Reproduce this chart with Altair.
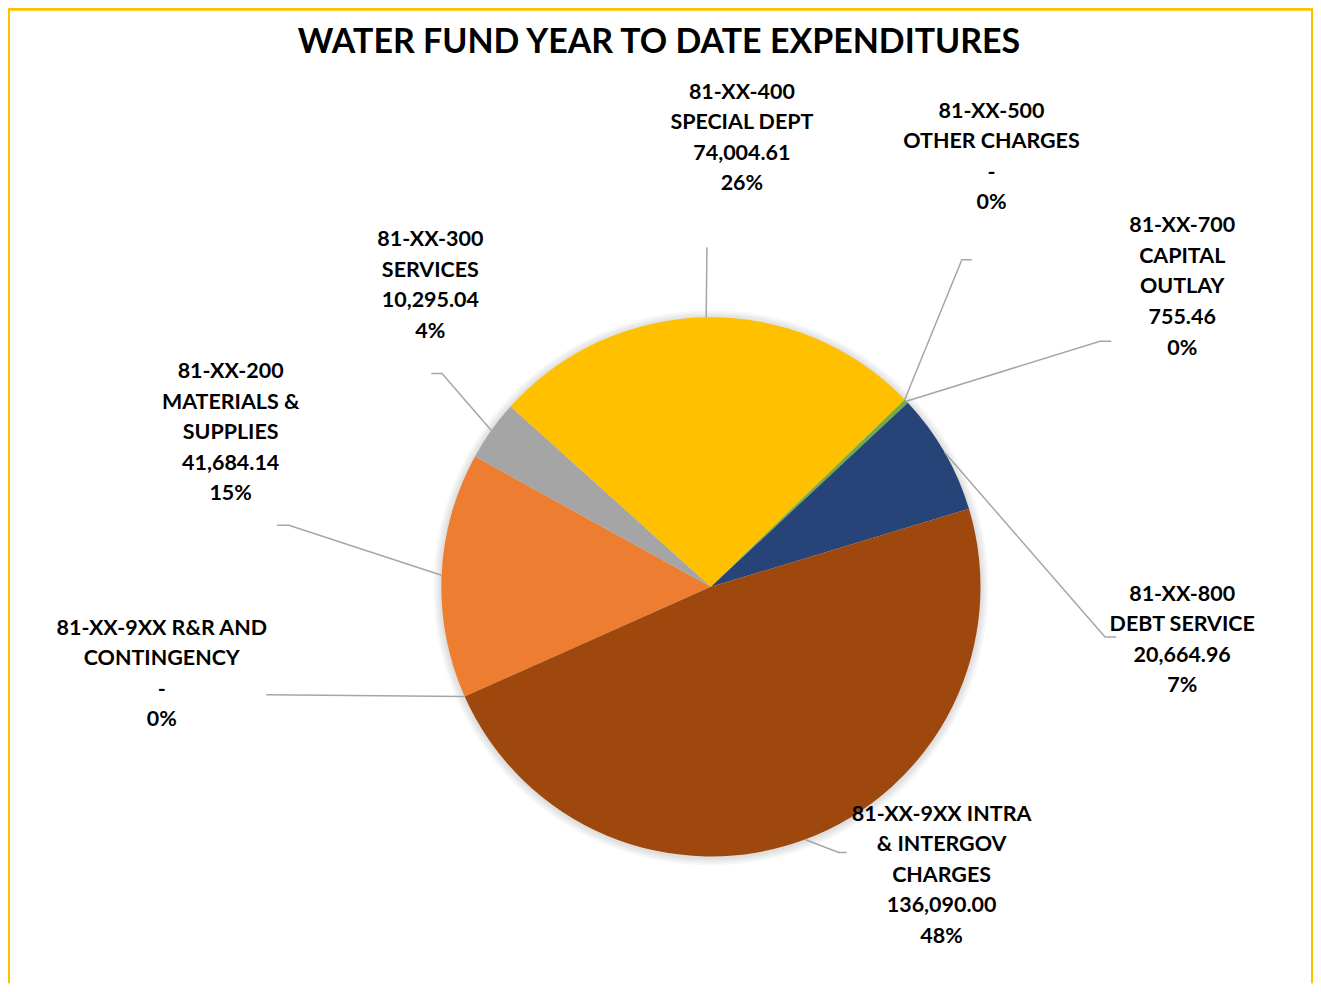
import math
import altair as alt
import pandas as pd

# ---- data ----
codes = ["81-XX-200", "81-XX-300", "81-XX-400", "81-XX-500", "81-XX-700",
         "81-XX-800", "81-XX-9XX INTRA", "81-XX-9XX R&R"]
name_lines = [
    ["81-XX-200", "MATERIALS &", "SUPPLIES"],
    ["81-XX-300", "SERVICES"],
    ["81-XX-400", "SPECIAL DEPT"],
    ["81-XX-500", "OTHER CHARGES"],
    ["81-XX-700", "CAPITAL", "OUTLAY"],
    ["81-XX-800", "DEBT SERVICE"],
    ["81-XX-9XX INTRA", "& INTERGOV", "CHARGES"],
    ["81-XX-9XX R&R AND", "CONTINGENCY"],
]
values = [41684.14, 10295.04, 74004.61, 0.0, 755.46, 20664.96, 136090.00, 0.0]
colors = ["#ED7D31", "#A5A5A5", "#FFC000", "#4472C4", "#70AD47",
          "#264478", "#9E480E", "#636363"]
title_text = "WATER FUND YEAR TO DATE EXPENDITURES"

# ---- layout (chart pixel space) ----
W, H = 1307, 976
CX, CY, R = 704, 579, 270
START_DEG = 246.0
FONT = "Lato"
# center x, first-line center y
label_pos = [(223, 364), (423, 232), (735, 84), (985, 103), (1176, 218),
             (1176, 587), (935, 807), (154, 621)]
# leader elbows / ends (after the rim start point)
leader_tail = [
    [(281.3, 517.3), (269.3, 517.3)],
    [(434.7, 365.3), (424.0, 365.3)],
    [(700.0, 239.0)],
    [(955.3, 251.3), (965.3, 251.3)],
    [(1093.7, 333.0), (1105.0, 333.0)],
    [(1098.7, 629.3), (1110.0, 629.3)],
    [(832.0, 845.0), (840.0, 845.0)],
    [(258.7, 687.0)],
]

total = sum(values)


def fmt_val(v):
    return "-" if v == 0 else f"{v:,.2f}"


df = pd.DataFrame({
    "code": codes,
    "value": values,
    "idx": list(range(len(codes))),
})

# labels
lab_rows = []
for i, (lines, v) in enumerate(zip(name_lines, values)):
    pct = f"{round(v / total * 100):.0f}%"
    txt = "\n".join(lines + [fmt_val(v), pct])
    lab_rows.append({"code": codes[i], "txt": txt,
                     "lx": label_pos[i][0], "ly": label_pos[i][1]})
lab_df = pd.DataFrame(lab_rows)

# leader lines: start at slice mid-angle on the rim
leader_rows = []
cum = 0.0
for i, v in enumerate(values):
    mid = START_DEG + (cum + v / 2) / total * 360.0
    cum += v
    a = math.radians(mid)
    sx = CX + R * math.sin(a)
    sy = CY - R * math.cos(a)
    pts = [(sx, sy)] + leader_tail[i]
    for k, (px, py) in enumerate(pts):
        leader_rows.append({"lid": i, "ord": k, "px": px, "py": py})
leader_df = pd.DataFrame(leader_rows)

start_rad = math.radians(START_DEG)

one = pd.DataFrame({"a": [0]})
shadows = [
    alt.Chart(one).mark_arc(
        theta=0, theta2=2 * math.pi, radius=r, color="#000000", opacity=0.03
    ).encode(x=alt.value(CX), y=alt.value(CY + 1))
    for r in (278, 276, 274, 272)
]

pie = alt.Chart(df).mark_arc(radius=R).encode(
    theta=alt.Theta("value:Q", stack=True,
                    scale=alt.Scale(range=[start_rad, start_rad + 2 * math.pi])),
    color=alt.Color("code:N", scale=alt.Scale(domain=codes, range=colors),
                    legend=None),
    order=alt.Order("idx:Q"),
    x=alt.value(CX), y=alt.value(CY),
)

leaders = alt.Chart(leader_df).mark_line(color="#A6A6A6", strokeWidth=1.5).encode(
    x=alt.X("px:Q", scale=None, axis=None),
    y=alt.Y("py:Q", scale=None, axis=None),
    detail="lid:N",
    order="ord:Q",
)

labels = alt.Chart(lab_df).mark_text(
    font=FONT, fontSize=21.5, fontWeight="bold", color="#000000",
    align="center", baseline="middle", lineBreak="\n", lineHeight=30.6
).encode(
    x=alt.X("lx:Q", scale=None, axis=None),
    y=alt.Y("ly:Q", scale=None, axis=None),
    text="txt:N",
)

title = alt.Chart(pd.DataFrame({"t": [title_text]})).mark_text(
    font=FONT, fontSize=34, fontWeight="bold", color="#000000",
    align="center", baseline="middle"
).encode(x=alt.value(652), y=alt.value(34), text="t:N")

border_l = alt.Chart(one).mark_rule(color="#FFC000", strokeWidth=3).encode(
    x=alt.value(0.5), y=alt.value(0), y2=alt.value(H))
border_t = alt.Chart(one).mark_rule(color="#FFC000", strokeWidth=3).encode(
    x=alt.value(0), x2=alt.value(1308), y=alt.value(0.5))
border_r = alt.Chart(one).mark_rule(color="#FFC000", strokeWidth=3).encode(
    x=alt.value(1306.5), y=alt.value(0), y2=alt.value(H))

chart = alt.layer(
    *shadows, pie, leaders, labels, title, border_l, border_t, border_r
).properties(
    width=W, height=H, padding=0,
    autosize=alt.AutoSizeParams(type="none"),
    background="transparent",
).configure_view(stroke="transparent", strokeWidth=0, fill="transparent")

chart.save("out.html", embed_options={"renderer": "svg", "actions": False})
